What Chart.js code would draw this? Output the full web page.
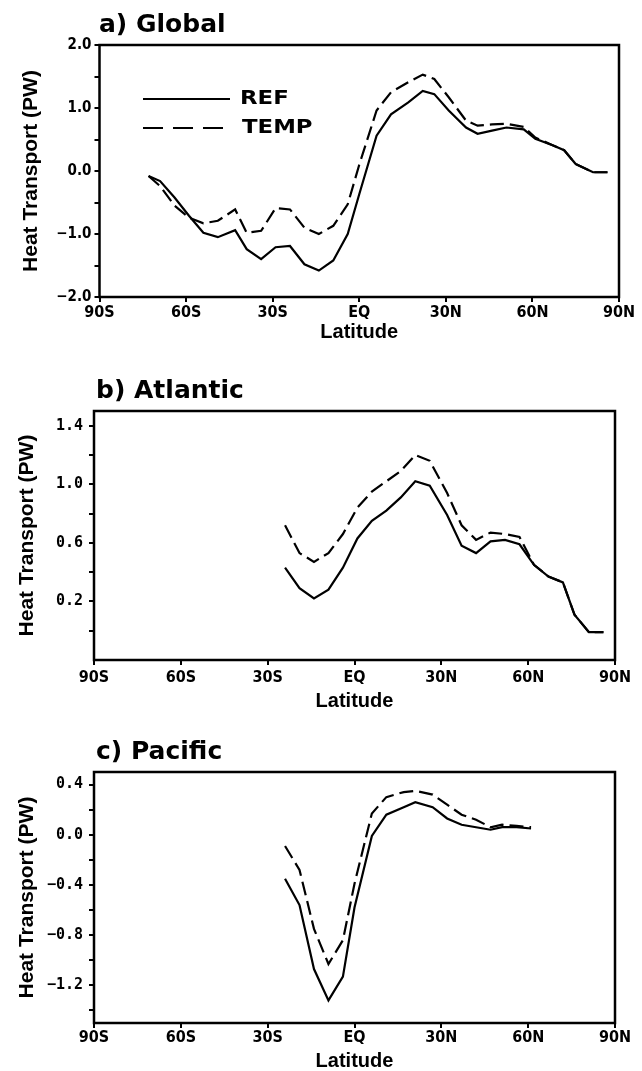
<!DOCTYPE html>
<html><head><meta charset="utf-8">
<script src="https://cdn.jsdelivr.net/npm/chart.js@4"></script>
<style>
html,body{margin:0;padding:0;background:#fff;}
body{width:642px;height:1071px;position:relative;overflow:hidden;}
canvas{position:absolute;left:0;display:block;}
</style></head><body>
<canvas id="ca" width="642" height="350" style="top:0px"></canvas>
<canvas id="cb" width="642" height="365" style="top:350px"></canvas>
<canvas id="cc" width="642" height="356" style="top:715px"></canvas>
<script>
// ---------- data ----------
const seriesLabels = ['REF', 'TEMP'];
const panelTitles = ['a) Global', 'b) Atlantic', 'c) Pacific'];
const xTickValues = [-90, -60, -30, 0, 30, 60, 90];
const xTickLabels = ['90S', '60S', '30S', 'EQ', '30N', '60N', '90N'];

const latA = [-73, -69, -64, -59, -54, -49, -43, -39, -34, -29, -24, -19, -14, -9, -4, 0, 6, 11, 17, 22, 26, 31, 37, 41, 46, 51, 57, 61, 67, 71, 75, 81, 86];
const refA = [-0.08, -0.16, -0.42, -0.71, -0.98, -1.05, -0.94, -1.24, -1.40, -1.21, -1.19, -1.48, -1.58, -1.42, -1.00, -0.37, 0.56, 0.90, 1.09, 1.27, 1.22, 0.96, 0.69, 0.59, 0.64, 0.69, 0.66, 0.51, 0.41, 0.33, 0.11, -0.02, -0.02];
const tempA = [-0.08, -0.24, -0.55, -0.74, -0.83, -0.79, -0.61, -0.98, -0.95, -0.59, -0.61, -0.90, -1.00, -0.87, -0.53, 0.10, 0.96, 1.25, 1.41, 1.53, 1.46, 1.17, 0.80, 0.72, 0.74, 0.75, 0.70, 0.53, 0.41, 0.33, 0.11, -0.02, -0.02];
const yTicksA = [-2, -1.5, -1, -0.5, 0, 0.5, 1, 1.5, 2];
const yLabelsA = ['\u22122.0', '', '\u22121.0', '', '0.0', '', '1.0', '', '2.0'];

const latB = [-24, -19, -14, -9, -4, 1, 6, 11, 16, 21, 26, 32, 37, 42, 47, 52, 57, 62, 67, 72, 76, 81, 86];
const refB = [0.43, 0.29, 0.22, 0.28, 0.43, 0.63, 0.75, 0.82, 0.91, 1.02, 0.99, 0.79, 0.58, 0.53, 0.61, 0.62, 0.59, 0.45, 0.37, 0.33, 0.11, -0.01, -0.01];
const tempB = [0.72, 0.53, 0.47, 0.53, 0.66, 0.84, 0.95, 1.02, 1.09, 1.20, 1.16, 0.94, 0.72, 0.62, 0.67, 0.66, 0.64, 0.45, 0.37, 0.33, 0.11, -0.01, -0.01];
const yTicksB = [0, 0.2, 0.4, 0.6, 0.8, 1.0, 1.2, 1.4];
const yLabelsB = ['', '0.2', '', '0.6', '', '1.0', '', '1.4'];

const latC = [-24, -19, -14, -9, -4, 0, 6, 11, 17, 21, 27, 32, 37, 42, 47, 51, 56, 61];
const refC = [-0.35, -0.56, -1.07, -1.32, -1.13, -0.58, -0.01, 0.16, 0.22, 0.26, 0.22, 0.13, 0.08, 0.06, 0.04, 0.06, 0.06, 0.05];
const tempC = [-0.09, -0.28, -0.75, -1.03, -0.84, -0.39, 0.17, 0.30, 0.34, 0.35, 0.32, 0.24, 0.16, 0.12, 0.06, 0.08, 0.07, 0.06];
const yTicksC = [-1.4, -1.2, -1.0, -0.8, -0.6, -0.4, -0.2, 0, 0.2, 0.4];
const yLabelsC = ['', '\u22121.2', '', '\u22120.8', '', '\u22120.4', '', '0.0', '', '0.4'];

// ---------- drawing ----------
const framePlugin = {
  id: 'frameText',
  afterDraw(chart, args, o) {
    const {ctx, chartArea: a} = chart;
    ctx.save();
    ctx.strokeStyle = '#000';
    ctx.lineWidth = 2.5;
    ctx.setLineDash([]);
    ctx.strokeRect(a.left, a.top, a.right - a.left, a.bottom - a.top);
    ctx.fillStyle = '#000';
    ctx.textAlign = 'left';
    ctx.textBaseline = 'alphabetic';
    ctx.font = "bold 25px 'DejaVu Sans'";
    ctx.fillText(o.title, o.titleX, o.titleY);
    if (o.legend) {
      chart.data.datasets.forEach((ds, i) => {
        const y = o.legend.y[i];
        ctx.save();
        ctx.lineWidth = 2.2;
        ctx.setLineDash(ds.borderDash ? o.legend.dash : []);
        ctx.beginPath();
        ctx.moveTo(o.legend.x0, y);
        ctx.lineTo(o.legend.x1[i], y);
        ctx.stroke();
        ctx.restore();
        ctx.save();
        ctx.font = "bold 19px 'DejaVu Sans'";
        ctx.textBaseline = 'middle';
        ctx.translate(o.legend.tx[i], y);
        ctx.scale(1.2, 1);
        ctx.fillText(ds.label, 0, 0);
        ctx.restore();
      });
    }
    ctx.restore();
  }
};

function makePanel(id, lats, ref, temp, yMin, yMax, yTicks, yLabels, L) {
  const tickFontX = {family: "'DejaVu Sans Condensed', 'DejaVu Sans'", weight: 'bold', size: 16};
  const tickFontY = L.mono
    ? {family: "'DejaVu Sans Mono'", weight: 'bold', size: 15}
    : {family: "'DejaVu Sans Condensed', 'DejaVu Sans'", weight: 'bold', size: 15};
  return new Chart(document.getElementById(id), {
    type: 'line',
    data: {
      datasets: [
        {label: seriesLabels[0], data: lats.map((x, i) => ({x, y: ref[i]})),
         borderColor: '#000', borderWidth: 2.2, pointRadius: 0, tension: 0, fill: false},
        {label: seriesLabels[1], data: lats.map((x, i) => ({x, y: temp[i]})),
         borderColor: '#000', borderWidth: 2.2, borderDash: [14, 6], pointRadius: 0, tension: 0, fill: false}
      ]
    },
    options: {
      responsive: false,
      animation: false,
      events: [],
      layout: {padding: {left: 0, top: L.top, right: 642 - L.right, bottom: 0}},
      plugins: {
        legend: {display: false},
        tooltip: {enabled: false},
        title: {display: false},
        frameText: {title: L.title, titleX: L.titleX, titleY: L.titleY, legend: L.legend}
      },
      scales: {
        x: {
          type: 'linear', min: -90, max: 90,
          afterFit: s => { s.height = L.h - L.bottom; },
          afterBuildTicks: s => { s.ticks = xTickValues.map(v => ({value: v})); },
          ticks: {autoSkip: false, maxRotation: 0, color: '#000', font: tickFontX, padding: L.xPad,
                  callback: (v, i) => xTickLabels[i]},
          grid: {drawOnChartArea: false, drawTicks: true, tickLength: 5, color: '#000', lineWidth: 2},
          border: {display: false},
          title: {display: true, text: 'Latitude', color: '#000',
                  font: {family: "'Liberation Sans', Arial", weight: 'bold', size: 20, lineHeight: 1},
                  padding: {top: 0, bottom: L.xTitlePad}}
        },
        y: {
          type: 'linear', min: yMin, max: yMax,
          afterFit: s => { s.width = L.left; },
          afterBuildTicks: s => { s.ticks = yTicks.map(v => ({value: v})); },
          ticks: {autoSkip: false, color: '#000', font: tickFontY, padding: L.yPad,
                  callback: (v, i) => yLabels[i]},
          grid: {drawOnChartArea: false, drawTicks: true, tickLength: 5, color: '#000', lineWidth: 2},
          border: {display: false},
          title: {display: true, text: 'Heat Transport (PW)', color: '#000',
                  font: {family: "'Liberation Sans', Arial", weight: 'bold', size: 21, lineHeight: 1},
                  padding: {top: L.yTitlePad, bottom: 0}}
        }
      }
    },
    plugins: [framePlugin]
  });
}

makePanel('ca', latA, refA, tempA, -2, 2, yTicksA, yLabelsA, {
  h: 350, left: 99.5, top: 45, right: 619, bottom: 297, xPad: 1, yPad: 3, xTitlePad: 7.5, yTitlePad: 20.5,
  mono: false, title: panelTitles[0], titleX: 99, titleY: 32,
  legend: {x0: 143, x1: [230, 224], y: [99, 128], tx: [240, 242], dash: [20, 10]}
});
makePanel('cb', latB, refB, tempB, -0.2, 1.5, yTicksB, yLabelsB, {
  h: 365, left: 94, top: 61, right: 615, bottom: 310, xPad: 3, yPad: 6, xTitlePad: 3.5, yTitlePad: 16.5,
  mono: true, title: panelTitles[1], titleX: 96, titleY: 48, legend: null
});
makePanel('cc', latC, refC, tempC, -1.5, 0.5, yTicksC, yLabelsC, {
  h: 356, left: 94, top: 57, right: 615, bottom: 308, xPad: 0, yPad: 6, xTitlePad: 0, yTitlePad: 16.5,
  mono: true, title: panelTitles[2], titleX: 96, titleY: 44, legend: null
});
</script>
</body></html>
